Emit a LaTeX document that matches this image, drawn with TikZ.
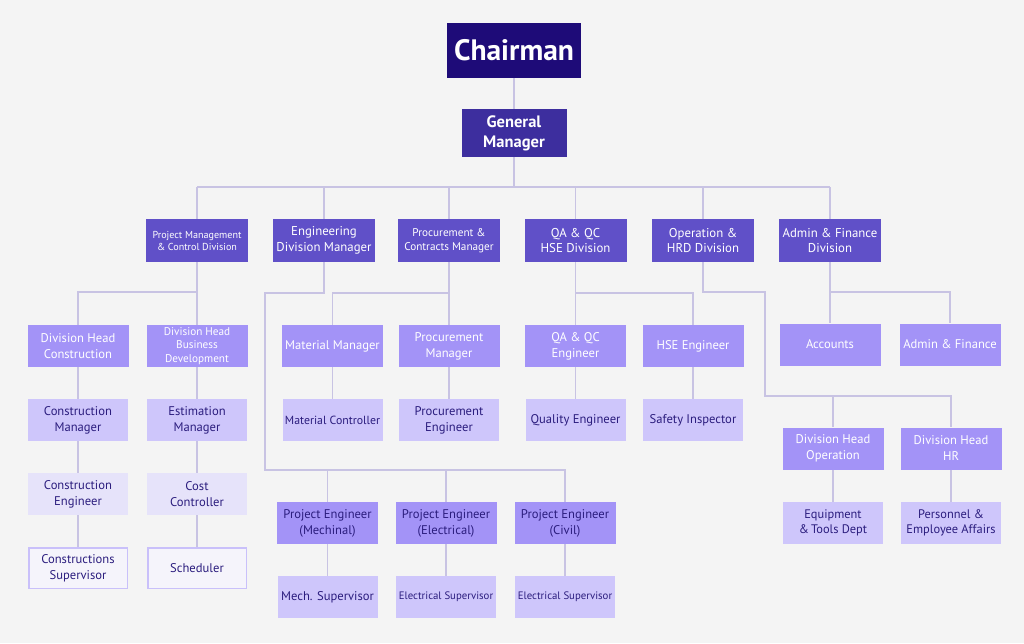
\documentclass[tikz,border=0pt]{standalone}
\usepackage{fontspec}
\setmainfont{PT Sans}
\definecolor{bg}{HTML}{F4F4F4}
\definecolor{cchair}{HTML}{1E0B78}
\definecolor{cgm}{HTML}{3D2E9E}
\definecolor{ctwo}{HTML}{6050C8}
\definecolor{cmid}{HTML}{A393F7}
\definecolor{clight}{HTML}{CEC6FB}
\definecolor{cpale}{HTML}{E6E3FA}
\definecolor{cout}{HTML}{C9C0FA}
\definecolor{cwhite}{HTML}{F5F4FB}
\definecolor{cline}{HTML}{C8C3E3}
\definecolor{ctext}{HTML}{2B1D7E}
\begin{document}
\begin{tikzpicture}[x=1pt,y=-1pt,
  box/.style={rectangle, inner sep=0pt, align=center, minimum width=102pt, minimum height=43pt, font=\fontsize{12.6}{16}\selectfont},
  lvtwo/.style={box, fill=ctwo, text=white},
  lvmid/.style={box, fill=cmid, text=white, minimum width=101pt, minimum height=42pt},
  lvmiddark/.style={box, fill=cmid, text=ctext, minimum width=101pt, minimum height=42pt},
  lvlight/.style={box, fill=clight, text=ctext, minimum width=100pt, minimum height=42pt},
  lvpale/.style={box, fill=cpale, text=ctext, minimum width=100pt, minimum height=42pt},
  lvout/.style={box, fill=cwhite, draw=cout, line width=1.5pt, text=ctext, minimum width=98.5pt, minimum height=40.5pt},
  conn/.style={draw=cline, line width=1.6pt}]
\fill[bg] (0,0) rectangle (1024,643);
\useasboundingbox (0,0) rectangle (1024,643);

% top
\node[box, fill=cchair, text=white, minimum width=134pt, minimum height=55pt, font=\fontsize{29.5}{31}\selectfont\bfseries] (chair) at (514,50.5) {Chairman};
\node[box, fill=cgm, text=white, minimum width=105pt, minimum height=48pt, font=\fontsize{16.5}{20}\selectfont\bfseries] (gm) at (514,133) {General\\Manager};

% level 2
\node[lvtwo, font=\fontsize{10.1}{12}\selectfont] (pmc) at (197,240.5) {Project Management\\\& Control Division};
\node[lvtwo, font=\fontsize{12.8}{15.5}\selectfont] (eng) at (324,240.5) {Engineering\\Division Manager};
\node[lvtwo, font=\fontsize{11.2}{14}\selectfont] (proc) at (449,240.5) {Procurement \&\\Contracts Manager};
\node[lvtwo, font=\fontsize{12.8}{15.5}\selectfont] (qa) at (575.5,240.5) {QA \& QC\\HSE Division};
\node[lvtwo, font=\fontsize{12.8}{15.5}\selectfont] (op) at (703,240.5) {Operation \&\\HRD Division};
\node[lvtwo, font=\fontsize{12.8}{15.5}\selectfont] (adm) at (830,240.5) {Admin \& Finance\\Division};

% level 3
\node[lvmid] (dhc) at (78,346) {Division Head\\Construction};
\node[lvmid, font=\fontsize{11.2}{13.5}\selectfont] (dhb) at (197,346) {Division Head\\Business\\Development};
\node[lvmid] (mm) at (332.5,346) {Material Manager};
\node[lvmid] (prm) at (449,346) {Procurement\\Manager};
\node[lvmid] (qae) at (575.5,346) {QA \& QC\\Engineer};
\node[lvmid] (hse) at (693,346) {HSE Engineer};
\node[lvmid] (acc) at (830,344.5) {Accounts};
\node[lvmid] (af) at (950,344.5) {Admin \& Finance};

% level 4
\node[lvlight] (cm) at (78,420) {Construction\\Manager};
\node[lvlight] (em) at (197,420) {Estimation\\Manager};
\node[lvlight, font=\fontsize{11.8}{14}\selectfont] (mc) at (332.5,420) {Material Controller};
\node[lvlight] (pe) at (449,420) {Procurement\\Engineer};
\node[lvlight] (qe) at (575.5,420) {Quality Engineer};
\node[lvlight] (si) at (693,420) {Safety Inspector};

% operation branch
\node[lvmid] (dho) at (833,448.5) {Division Head\\Operation};
\node[lvmid] (dhh) at (951,448.5) {Division Head\\HR};
\node[lvlight, font=\fontsize{12.4}{15}\selectfont] (eq) at (833,523) {Equipment\\\&\,Tools Dept};
\node[lvlight, font=\fontsize{12.4}{15}\selectfont] (pea) at (951,523) {Personnel \&\\Employee Affairs};

% left column lower
\node[lvpale] (ce) at (78,494) {Construction\\Engineer};
\node[lvpale] (cc) at (197,494) {Cost\\Controller};
\node[lvout] (cs) at (78,568) {Constructions\\Supervisor};
\node[lvout] (sch) at (197,568) {Scheduler};

% project engineers
\node[lvmiddark] (pem) at (327.5,523) {Project Engineer\\(Mechinal)};
\node[lvmiddark] (pee) at (446,523) {Project Engineer\\(Electrical)};
\node[lvmiddark] (pec) at (565,523) {Project Engineer\\(Civil)};
\node[lvlight] (sm) at (327.5,597) {Mech. Supervisor};
\node[lvlight, font=\fontsize{10.8}{14}\selectfont] (se) at (446,597) {Electrical Supervisor};
\node[lvlight, font=\fontsize{10.8}{14}\selectfont] (sc) at (565,597) {Electrical Supervisor};

% coordinates
\coordinate (bus) at (514,187);
\coordinate (engL) at (265,470);
\coordinate (opR) at (765,396);

% connectors
\path[conn] (chair.south) -- (gm.north);
\path[conn] (gm.south) -- (bus);
\path[conn] (pmc.north |- bus) -- (adm.north |- bus);
\foreach \n in {pmc,eng,proc,qa,op,adm} \path[conn] (\n.north |- bus) -- (\n.north);

\path[conn] (pmc.south) -- ++(0,30) -| (dhc.north);
\path[conn] (pmc.south) -- (dhb.north);
\path[conn] (dhc.south) -- (cm.north);
\path[conn] (cm.south) -- (ce.north);
\path[conn] (ce.south) -- (cs.north);
\path[conn] (dhb.south) -- (em.north);
\path[conn] (em.south) -- (cc.north);
\path[conn] (cc.south) -- (sch.north);

\path[conn] (eng.south) -- ++(0,31) -| (engL) -| (pec.north);
\path[conn] (pem.north |- engL) -- (pem.north);
\path[conn] (pee.north |- engL) -- (pee.north);
\path[conn] (pem.south) -- (sm.north);
\path[conn] (pee.south) -- (se.north);
\path[conn] (pec.south) -- (sc.north);

\path[conn] (proc.south) -- ++(0,31) -| (mm.north);
\path[conn] (proc.south) -- (prm.north);
\path[conn] (mm.south) -- (mc.north);
\path[conn] (prm.south) -- (pe.north);

\path[conn] (qa.south) -- ++(0,31) -| (hse.north);
\path[conn] (qa.south) -- (qae.north);
\path[conn] (qae.south) -- (qe.north);
\path[conn] (hse.south) -- (si.north);

\path[conn] (op.south) -- ++(0,30) -| (opR) -| (dhh.north);
\path[conn] (dho.north |- opR) -- (dho.north);
\path[conn] (dho.south) -- (eq.north);
\path[conn] (dhh.south) -- (pea.north);

\path[conn] (adm.south) -- ++(0,30) -| (af.north);
\path[conn] (adm.south) -- (acc.north);
\end{tikzpicture}
\end{document}
